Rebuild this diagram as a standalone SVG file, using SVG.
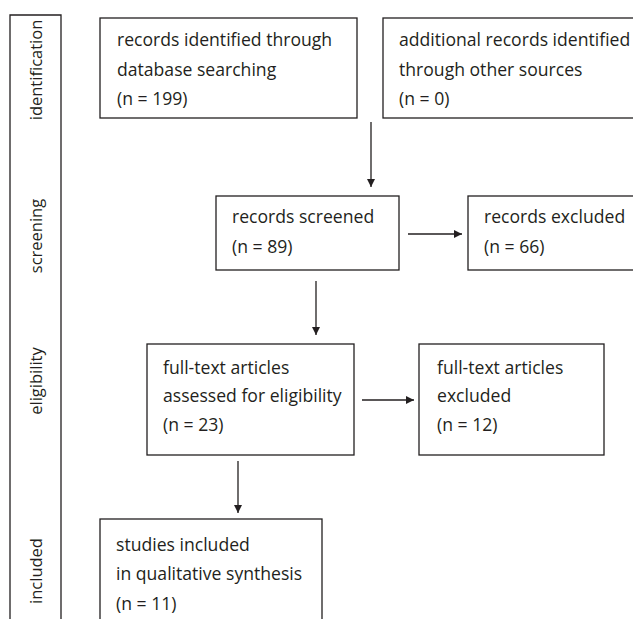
<svg xmlns="http://www.w3.org/2000/svg" width="633" height="619" viewBox="0 0 633 619">
<defs>
<style>
.box{fill:#fff;stroke:#231f20;stroke-width:1.3}
.t{font-family:"Open Sans","Liberation Sans",sans-serif;font-size:17.6px;fill:#231f20}
.lab{font-family:"Open Sans","Liberation Sans",sans-serif;font-size:16.5px;fill:#231f20;text-anchor:middle}
.c{stroke:#231f20;stroke-width:1.3;fill:none}
</style>
<marker id="ah" viewBox="0 0 10 10" refX="10" refY="5" markerWidth="8" markerHeight="8" markerUnits="userSpaceOnUse" orient="auto">
<path d="M0,0 L10,5 L0,10 z" fill="#231f20"/>
</marker>
</defs>
<rect width="633" height="619" fill="#fff"/>
<g id="stages">
<path class="c" d="M10,619 V15 H61 V619"/>
<text class="lab" transform="translate(42,70) rotate(-90)">identification</text>
<text class="lab" transform="translate(42,236) rotate(-90)">screening</text>
<text class="lab" transform="translate(42,381) rotate(-90)">eligibility</text>
<text class="lab" transform="translate(42,571) rotate(-90)">included</text>
</g>
<g id="connectors">
<line class="c" x1="371" y1="122" x2="371" y2="187" marker-end="url(#ah)"/>
<line class="c" x1="408" y1="234" x2="462" y2="234" marker-end="url(#ah)"/>
<line class="c" x1="316" y1="281" x2="316" y2="335" marker-end="url(#ah)"/>
<line class="c" x1="362" y1="400" x2="414" y2="400" marker-end="url(#ah)"/>
<line class="c" x1="238" y1="461" x2="238" y2="513" marker-end="url(#ah)"/>
</g>
<g id="n1">
<rect class="box" x="100" y="18" width="257" height="100"/>
<text class="t" x="117" y="46">records identified through</text>
<text class="t" x="117" y="76">database searching</text>
<text class="t" x="117" y="105">(n = 199)</text>
</g>
<g id="n2">
<rect class="box" x="383" y="18" width="260" height="100"/>
<text class="t" x="399" y="46">additional records identified</text>
<text class="t" x="399" y="76">through other sources</text>
<text class="t" x="399" y="105">(n = 0)</text>
</g>
<g id="n3">
<rect class="box" x="216" y="196" width="183" height="74"/>
<text class="t" x="232" y="223">records screened</text>
<text class="t" x="232" y="253">(n = 89)</text>
</g>
<g id="n4">
<rect class="box" x="468" y="196" width="175" height="74"/>
<text class="t" x="484" y="223">records excluded</text>
<text class="t" x="484" y="253">(n = 66)</text>
</g>
<g id="n5">
<rect class="box" x="147" y="344" width="207" height="111"/>
<text class="t" x="163" y="374">full-text articles</text>
<text class="t" x="163" y="402">assessed for eligibility</text>
<text class="t" x="163" y="431">(n = 23)</text>
</g>
<g id="n6">
<rect class="box" x="419" y="344" width="185" height="111"/>
<text class="t" x="437" y="374">full-text articles</text>
<text class="t" x="437" y="402">excluded</text>
<text class="t" x="437" y="431">(n = 12)</text>
</g>
<g id="n7">
<rect class="box" x="100" y="519" width="222" height="110"/>
<text class="t" x="116" y="551">studies included</text>
<text class="t" x="116" y="580">in qualitative synthesis</text>
<text class="t" x="116" y="610">(n = 11)</text>
</g>
</svg>
